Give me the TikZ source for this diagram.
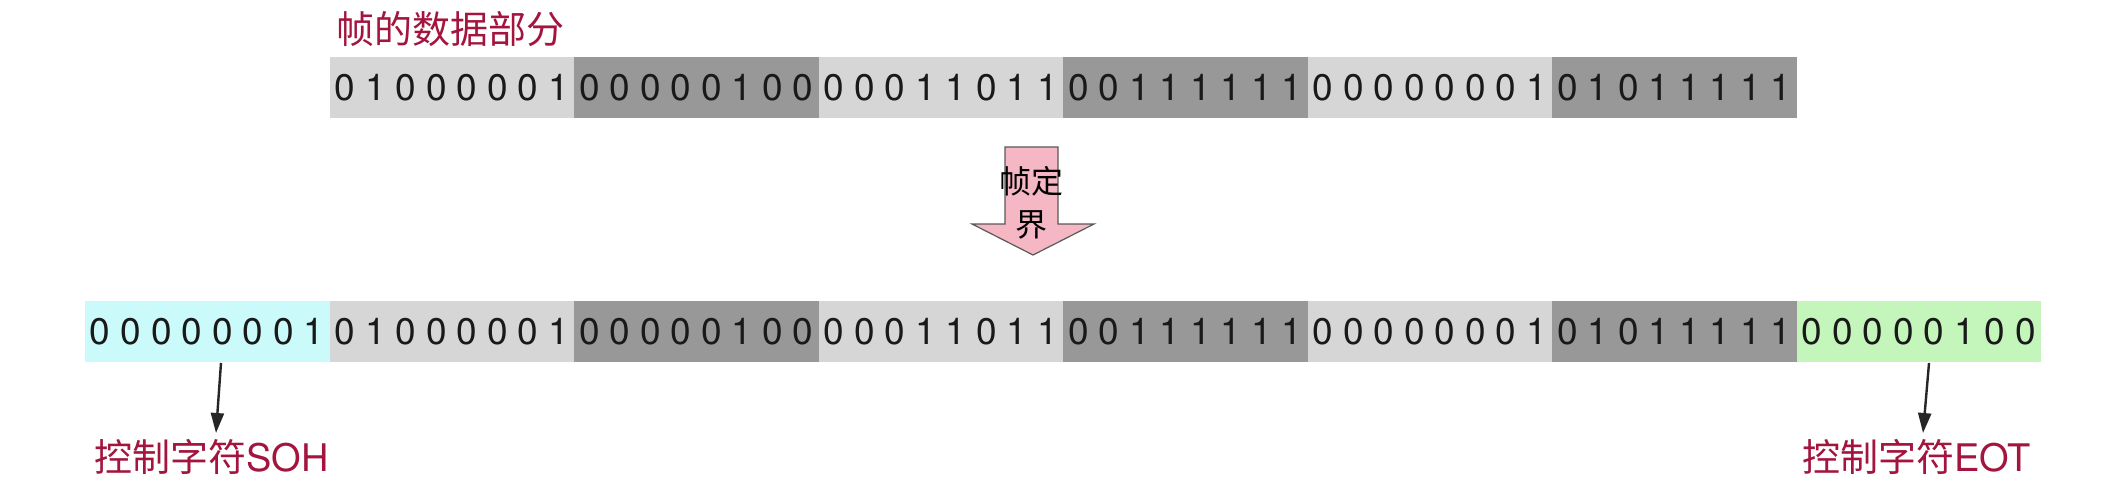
\documentclass[tikz,border=0pt]{standalone}
\usepackage{fontspec}
\setmainfont{TeX Gyre Heros}
\newfontfamily\cjk{Noto Sans CJK SC}
\usetikzlibrary{arrows.meta}
\definecolor{lightbyte}{RGB}{214,214,214}
\definecolor{darkbyte}{RGB}{152,152,152}
\definecolor{sohcol}{RGB}{203,250,250}
\definecolor{eotcol}{RGB}{196,246,188}
\definecolor{labred}{RGB}{163,20,62}
\definecolor{arrpink}{RGB}{245,183,196}
\tikzset{
  bytebox/.style={minimum width=244.5pt, minimum height=61pt, inner sep=0pt, outer sep=0pt, draw=none, anchor=north west},
  bitnum/.style={font=\fontsize{37}{37}\selectfont, inner sep=0pt, text=black!90},
  redlabel/.style={font=\fontsize{38}{38}\selectfont, text=labred, inner sep=0pt},
  pointer/.style={line width=2.4pt, draw=black!85, -{Triangle[length=20pt,width=13pt]}},
}
\newcommand{\putbyte}[5]{%
  \node[bytebox, fill=#4] (#1) at (#2,#3) {};
  \foreach \d [count=\j] in {#5} {
    \node[bitnum] (#1-\j) at ([xshift={(\j-0.5)*30.5625pt}]#1.west) {\d};
  }%
}
\begin{document}
\begin{tikzpicture}[x=1pt,y=-1pt]
\useasboundingbox (0,0) rectangle (2117,487);
% title
\node[redlabel, anchor=west] (title) at (336,29) {\cjk 帧的数据部分};
% top row
\putbyte{t1}{329.5}{57}{lightbyte}{0,1,0,0,0,0,0,1}
\putbyte{t2}{574}{57}{darkbyte}{0,0,0,0,0,1,0,0}
\putbyte{t3}{818.5}{57}{lightbyte}{0,0,0,1,1,0,1,1}
\putbyte{t4}{1063}{57}{darkbyte}{0,0,1,1,1,1,1,1}
\putbyte{t5}{1307.5}{57}{lightbyte}{0,0,0,0,0,0,0,1}
\putbyte{t6}{1552}{57}{darkbyte}{0,1,0,1,1,1,1,1}
% framing arrow
\path[fill=arrpink, draw=black!65, line width=1.2pt]
  (1005,147) -- (1058,147) -- (1058,224) -- (1094,224) -- (1033,255)
  -- (972,224) -- (1005,224) -- cycle;
\node[font=\cjk\fontsize{32}{32}\selectfont, inner sep=0pt] (frm1) at (1031,181) {帧定};
\node[font=\cjk\fontsize{32}{32}\selectfont, inner sep=0pt] (frm2) at (1031,225) {界};
% bottom row
\putbyte{b0}{85}{301}{sohcol}{0,0,0,0,0,0,0,1}
\putbyte{b1}{329.5}{301}{lightbyte}{0,1,0,0,0,0,0,1}
\putbyte{b2}{574}{301}{darkbyte}{0,0,0,0,0,1,0,0}
\putbyte{b3}{818.5}{301}{lightbyte}{0,0,0,1,1,0,1,1}
\putbyte{b4}{1063}{301}{darkbyte}{0,0,1,1,1,1,1,1}
\putbyte{b5}{1307.5}{301}{lightbyte}{0,0,0,0,0,0,0,1}
\putbyte{b6}{1552}{301}{darkbyte}{0,1,0,1,1,1,1,1}
\putbyte{b7}{1796.5}{301}{eotcol}{0,0,0,0,0,1,0,0}
% labels
\node[redlabel, anchor=west] (soh) at (94,457) {{\cjk 控制字符}SOH};
\node[redlabel, anchor=west] (eot) at (1802,457) {{\cjk 控制字符}EOT};
\coordinate (sohstart) at (221,363);
\coordinate (sohend) at (216,433);
\coordinate (eotstart) at (1929,363);
\coordinate (eotend) at (1923,433);
\draw[pointer] (sohstart) -- (sohend);
\draw[pointer] (eotstart) -- (eotend);
\end{tikzpicture}
\end{document}
